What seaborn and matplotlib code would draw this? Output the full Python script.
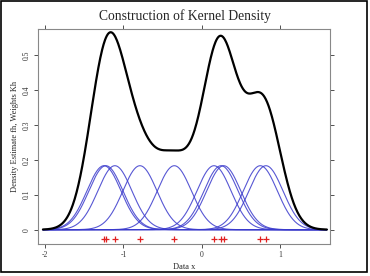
import numpy as np
import pandas as pd
import seaborn as sns
import matplotlib
matplotlib.use("Agg")
import matplotlib.pyplot as plt
from matplotlib.patches import Rectangle

# data points (read from the red crosses)
data_x = [-1.25, -1.225, -1.11, -0.79, -0.35, 0.157, 0.247, 0.281, 0.749, 0.821]
bandwidth = 0.218
grid_lo, grid_hi = -2.03, 1.6
title = "Construction of Kernel Density"
xlabel = "Data x"
ylabel = "Density Estimate fh, Weights Kh"
xticks = [-2, -1, 0, 1]
yticks = [0.0, 0.1, 0.2, 0.3, 0.4, 0.5]
ytick_labels = ["0", "0.1", "0.2", "0.3", "0.4", "0.5"]

sns.set_theme(style="white")
plt.rcParams['font.family'] = ['Liberation Serif', 'DejaVu Serif']

grid = np.linspace(grid_lo, grid_hi, 600)
n = len(data_x)
rows = []
dens = np.zeros_like(grid)
for i, xi in enumerate(data_x):
    k = np.exp(-0.5 * ((grid - xi) / bandwidth) ** 2) / (np.sqrt(2 * np.pi) * bandwidth * n)
    dens += k
    rows.append(pd.DataFrame({"x": grid, "y": k, "pt": i}))
kern = pd.concat(rows)
dens_df = pd.DataFrame({"x": grid, "y": dens})
pts = pd.DataFrame({"x": data_x, "y": [-0.027] * n})

fig = plt.figure(figsize=(3.7, 2.76), dpi=100)
ax = fig.add_axes([38 / 370, 1 - 244 / 276, (330 - 38) / 370, (244 - 28.7) / 276])

sns.lineplot(data=kern, x="x", y="y", hue="pt", palette=["#3a3acc"] * n,
             linewidth=0.8, legend=False, ax=ax, estimator=None, alpha=0.85)
sns.lineplot(data=dens_df, x="x", y="y", color="black", linewidth=1.6, ax=ax, estimator=None)
sns.scatterplot(data=pts, x="x", y="y", marker="+", color="#e02020", s=22,
                linewidth=0.9, ax=ax)

ax.set_xlim(-2.093, 1.64)
ax.set_ylim(-0.041, 0.575)
ax.set_xticks(xticks)
ax.set_xticklabels([str(t) for t in xticks])
ax.set_yticks(yticks)
ax.set_yticklabels(ytick_labels, rotation=90, va="center")
ax.tick_params(axis="both", which="both", direction="out", length=3, width=0.6,
               labelsize=5.5, colors="#333333", pad=2,
               top=True, right=True, bottom=True, left=True)
for s in ax.spines.values():
    s.set_color("#888888")
    s.set_linewidth(0.8)
ax.set_xlabel(xlabel, fontsize=6, labelpad=3)
ax.set_ylabel(ylabel, fontsize=6, labelpad=3)
fig.text(0.5, 1 - 16 / 276, title, ha="center", va="center", fontsize=9.8)

fig.patches.append(Rectangle((1 / 370, 1 - 272 / 276), 366 / 370, 271 / 276,
                             transform=fig.transFigure, fill=False,
                             edgecolor="black", linewidth=1.2))
fig.savefig("out.png", dpi=100)
